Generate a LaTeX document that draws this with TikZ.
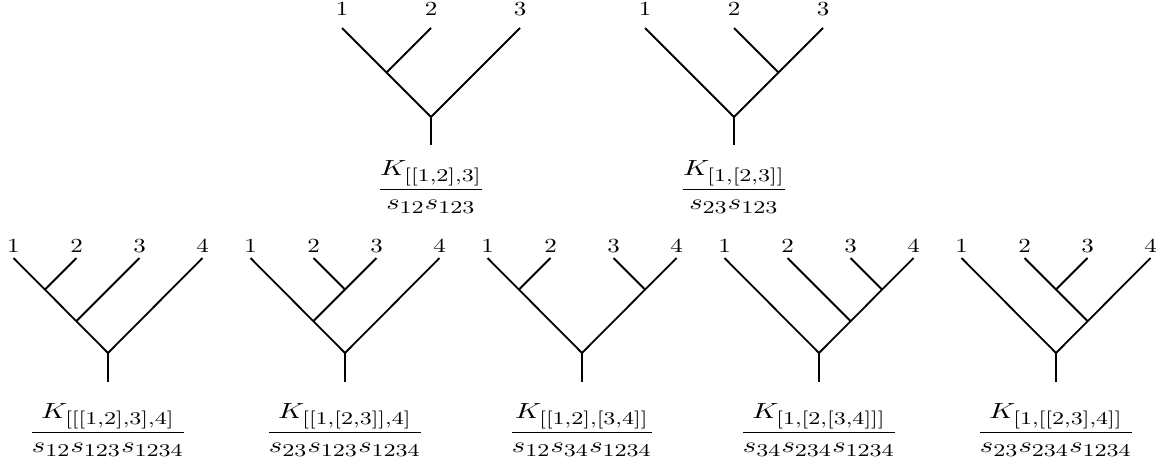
\documentclass[tikz,border=0pt]{standalone}
\usepackage{graphicx}
\usepackage{amsmath}
\DeclareMathSizes{11}{11}{9.3}{7}
\newcommand\frc[2]{\scalebox{1.3}[1]{\fontsize{11}{13}\selectfont$\dfrac{#1}{#2}$}}
\newcommand\lbl[1]{\scalebox{1.25}[1]{#1}}
\tikzset{
  tree/.style={line width=0.9pt},
  lab/.style={anchor=base, inner sep=0pt},
  fracnode/.style={anchor=base, inner sep=0pt}
}
\begin{document}
\begin{tikzpicture}[x=0.5pt,y=-0.5pt]
\useasboundingbox (0,0) rectangle (1156,467);

% ---------- top tree A : [[1,2],3]
\coordinate (a1) at (342,28); \coordinate (a2) at (431,28); \coordinate (a3) at (520,28);
\coordinate (a12) at (386.5,72.5); \coordinate (ar) at (431,117); \coordinate (as) at (431,145);
\draw[tree] (a1) -- (ar) -- (a3);
\draw[tree] (a2) -- (a12);
\draw[tree] (ar) -- (as);
\node[lab] (la1) at (342,15) {\lbl{1}};
\node[lab] (la2) at (431,15) {\lbl{2}};
\node[lab] (la3) at (520,15) {\lbl{3}};
\node[fracnode] (fa) at (431,194.5) {\frc{K_{[[1,2],3]}}{s_{12}s_{123}}};

% ---------- top tree B : [1,[2,3]]
\coordinate (b1) at (645,28); \coordinate (b2) at (734,28); \coordinate (b3) at (823,28);
\coordinate (b23) at (778.5,72.5); \coordinate (br) at (734,117); \coordinate (bs) at (734,145);
\draw[tree] (b1) -- (br) -- (b3);
\draw[tree] (b2) -- (b23);
\draw[tree] (br) -- (bs);
\node[lab] (lb1) at (645,15) {\lbl{1}};
\node[lab] (lb2) at (734,15) {\lbl{2}};
\node[lab] (lb3) at (823,15) {\lbl{3}};
\node[fracnode] (fb) at (734,194.5) {\frc{K_{[1,[2,3]]}}{s_{23}s_{123}}};

% ---------- bottom tree C : [[[1,2],3],4]
\coordinate (c1) at (13.5,258); \coordinate (c2) at (76.5,258); \coordinate (c3) at (139.5,258); \coordinate (c4) at (202.5,258);
\coordinate (c12) at (45,289.5); \coordinate (c123) at (76.5,321);
\coordinate (cr) at (108,353); \coordinate (cs) at (108,382);
\draw[tree] (c1) -- (cr) -- (c4);
\draw[tree] (c2) -- (c12);
\draw[tree] (c3) -- (c123);
\draw[tree] (cr) -- (cs);
\node[lab] (lc1) at (13.5,252) {\lbl{1}};
\node[lab] (lc2) at (76.5,252) {\lbl{2}};
\node[lab] (lc3) at (139.5,252) {\lbl{3}};
\node[lab] (lc4) at (202.5,252) {\lbl{4}};
\node[fracnode] (fc) at (108,437.5) {\frc{K_{[[[1,2],3],4]}}{s_{12}s_{123}s_{1234}}};

% ---------- bottom tree D : [[1,[2,3]],4]
\coordinate (d1) at (250.5,258); \coordinate (d2) at (313.5,258); \coordinate (d3) at (376.5,258); \coordinate (d4) at (439.5,258);
\coordinate (d23) at (345,289.5); \coordinate (d123) at (313.5,321);
\coordinate (dr) at (345,353); \coordinate (ds) at (345,382);
\draw[tree] (d1) -- (dr) -- (d4);
\draw[tree] (d2) -- (d23);
\draw[tree] (d3) -- (d123);
\draw[tree] (dr) -- (ds);
\node[lab] (ld1) at (250.5,252) {\lbl{1}};
\node[lab] (ld2) at (313.5,252) {\lbl{2}};
\node[lab] (ld3) at (376.5,252) {\lbl{3}};
\node[lab] (ld4) at (439.5,252) {\lbl{4}};
\node[fracnode] (fd) at (345,437.5) {\frc{K_{[[1,[2,3]],4]}}{s_{23}s_{123}s_{1234}}};

% ---------- bottom tree E : [[1,2],[3,4]]
\coordinate (e1) at (487.5,258); \coordinate (e2) at (550.5,258); \coordinate (e3) at (613.5,258); \coordinate (e4) at (676.5,258);
\coordinate (e12) at (519,289.5); \coordinate (e34) at (645,289.5);
\coordinate (er) at (582,353); \coordinate (es) at (582,382);
\draw[tree] (e1) -- (er) -- (e4);
\draw[tree] (e2) -- (e12);
\draw[tree] (e3) -- (e34);
\draw[tree] (er) -- (es);
\node[lab] (le1) at (487.5,252) {\lbl{1}};
\node[lab] (le2) at (550.5,252) {\lbl{2}};
\node[lab] (le3) at (613.5,252) {\lbl{3}};
\node[lab] (le4) at (676.5,252) {\lbl{4}};
\node[fracnode] (fe) at (582,437.5) {\frc{K_{[[1,2],[3,4]]}}{s_{12}s_{34}s_{1234}}};

% ---------- bottom tree F : [1,[2,[3,4]]]
\coordinate (f1) at (724.5,258); \coordinate (f2) at (787.5,258); \coordinate (f3) at (850.5,258); \coordinate (f4) at (913.5,258);
\coordinate (f34) at (882,289.5); \coordinate (f234) at (850.5,321);
\coordinate (fr) at (819,353); \coordinate (fs) at (819,382);
\draw[tree] (f1) -- (fr) -- (f4);
\draw[tree] (f3) -- (f34);
\draw[tree] (f2) -- (f234);
\draw[tree] (fr) -- (fs);
\node[lab] (lf1) at (724.5,252) {\lbl{1}};
\node[lab] (lf2) at (787.5,252) {\lbl{2}};
\node[lab] (lf3) at (850.5,252) {\lbl{3}};
\node[lab] (lf4) at (913.5,252) {\lbl{4}};
\node[fracnode] (ff) at (819,437.5) {\frc{K_{[1,[2,[3,4]]]}}{s_{34}s_{234}s_{1234}}};

% ---------- bottom tree G : [1,[[2,3],4]]
\coordinate (g1) at (961.5,258); \coordinate (g2) at (1024.5,258); \coordinate (g3) at (1087.5,258); \coordinate (g4) at (1150.5,258);
\coordinate (g23) at (1056,289.5); \coordinate (g234) at (1087.5,321);
\coordinate (gr) at (1056,353); \coordinate (gs) at (1056,382);
\draw[tree] (g1) -- (gr) -- (g4);
\draw[tree] (g2) -- (g234);
\draw[tree] (g3) -- (g23);
\draw[tree] (gr) -- (gs);
\node[lab] (lg1) at (961.5,252) {\lbl{1}};
\node[lab] (lg2) at (1024.5,252) {\lbl{2}};
\node[lab] (lg3) at (1087.5,252) {\lbl{3}};
\node[lab] (lg4) at (1150.5,252) {\lbl{4}};
\node[fracnode] (fg) at (1056,437.5) {\frc{K_{[1,[[2,3],4]]}}{s_{23}s_{234}s_{1234}}};
\end{tikzpicture}
\end{document}
